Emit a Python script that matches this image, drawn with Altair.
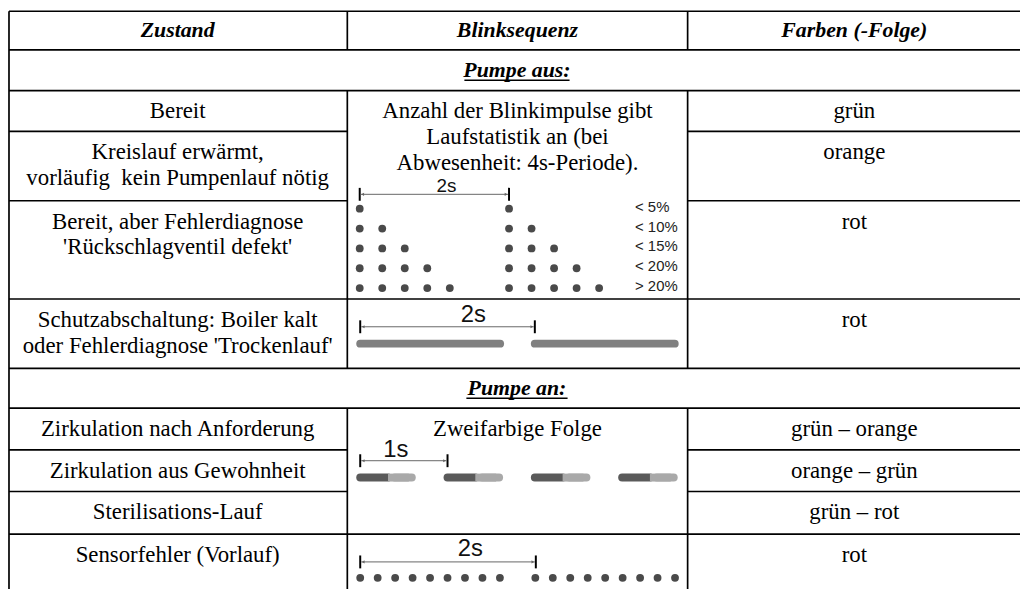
import altair as alt
import pandas as pd

# ---------------- content ----------------
header = ["Zustand", "Blinksequenz", "Farben (-Folge)"]
sections = ["Pumpe aus:", "Pumpe an:"]
zustand = [
    ["Bereit"],
    ["Kreislauf erwärmt,", "vorläufig\u00a0\u00a0kein Pumpenlauf nötig"],
    ["Bereit, aber Fehlerdiagnose", "'Rückschlagventil defekt'"],
    ["Schutzabschaltung: Boiler kalt", "oder Fehlerdiagnose 'Trockenlauf'"],
    ["Zirkulation nach Anforderung"],
    ["Zirkulation aus Gewohnheit"],
    ["Sterilisations-Lauf"],
    ["Sensorfehler (Vorlauf)"],
]
farben = ["grün", "orange", "rot", "rot", "grün – orange", "orange – grün", "grün – rot", "rot"]
blink_text = [
    ["Anzahl der Blinkimpulse gibt", "Laufstatistik an (bei", "Abwesenheit: 4s-Periode)."],
    ["Zweifarbige Folge"],
]
pulse_counts = [1, 2, 3, 4, 5]
pulse_labels = ["< 5%", "< 10%", "< 15%", "< 20%", "> 20%"]
sensor_pulses = 9
two_colour_periods = 4
dim_labels = ["2s", "2s", "1s", "2s"]

# ---------------- layout (pixel-like units) ----------------
W, H = 1020, 581
XS = alt.Scale(domain=[8, 8 + W], nice=False, zero=False)
YS = alt.Scale(domain=[8, 8 + H], nice=False, zero=False, reverse=True)

col_edges = [9, 350, 693, 1040]
row_edges = [9, 48, 89, 130, 200, 299, 369, 409, 451, 493, 536, 600]
full_lines = [0, 1, 2, 5, 6, 7, 10]
partial_lines = [3, 4, 8, 9]
zustand_rows = [2, 3, 4, 5, 7, 8, 9, 10]
section_rows = [1, 6]
col_centers = [179, 521.5, 861]
line_gap = 26
first_line = 21

SERIF = "Liberation Serif"
SANS = "Liberation Sans"
BODY_SIZE = 23
HEAD_SIZE = 22

# table grid
grid = []
for i in full_lines:
    grid.append(dict(x=col_edges[0], x2=col_edges[3], y=row_edges[i], y2=row_edges[i]))
for i in partial_lines:
    grid.append(dict(x=col_edges[0], x2=col_edges[1], y=row_edges[i], y2=row_edges[i]))
    grid.append(dict(x=col_edges[2], x2=col_edges[3], y=row_edges[i], y2=row_edges[i]))
grid.append(dict(x=col_edges[0], x2=col_edges[0], y=row_edges[0], y2=row_edges[-1]))
for cx in col_edges[1:3]:
    for a, b in [(0, 1), (2, 6), (7, 11)]:
        grid.append(dict(x=cx, x2=cx, y=row_edges[a], y2=row_edges[b]))
grid_df = pd.DataFrame(grid)


def rules(df, color, width, cap="butt"):
    return alt.Chart(df).mark_rule(color=color, strokeWidth=width, strokeCap=cap).encode(
        x=alt.X("x:Q", scale=XS, axis=None),
        x2="x2:Q",
        y=alt.Y("y:Q", scale=YS, axis=None),
        y2="y2:Q",
    )


def texts(df, font, size, weight="normal", style="normal", align="center", color="#000000"):
    return alt.Chart(df).mark_text(
        font=font, fontSize=size, fontWeight=weight, fontStyle=style,
        align=align, baseline="middle", color=color,
    ).encode(
        x=alt.X("x:Q", scale=XS, axis=None),
        y=alt.Y("y:Q", scale=YS, axis=None),
        text="t:N",
    )


# header text
head_df = pd.DataFrame([dict(x=col_centers[i], y=(row_edges[0] + row_edges[1]) / 2 - 1, t=h)
                        for i, h in enumerate(header)])
sec_df = pd.DataFrame([dict(x=521, y=(row_edges[r] + row_edges[r + 1]) / 2, t=s)
                       for r, s in zip(section_rows, sections)])
underline_span = [(468, 574), (470, 572)]
ul_df = pd.DataFrame([dict(x=a, x2=b, y=(row_edges[r] + row_edges[r + 1]) / 2 + 10,
                           y2=(row_edges[r] + row_edges[r + 1]) / 2 + 10)
                      for r, (a, b) in zip(section_rows, underline_span)])

body = []
for r, lines in zip(zustand_rows, zustand):
    for k, ln in enumerate(lines):
        body.append(dict(x=col_centers[0], y=row_edges[r] + first_line + k * line_gap, t=ln))
for r, ln in zip(zustand_rows, farben):
    body.append(dict(x=col_centers[2], y=row_edges[r] + first_line, t=ln))
for r, lines in zip([2, 7], blink_text):
    for k, ln in enumerate(lines):
        body.append(dict(x=col_centers[1], y=row_edges[r] + first_line + k * line_gap, t=ln))
body_df = pd.DataFrame(body)

# pulse statistics dots
dot_rows = []
for k, c in enumerate(pulse_counts):
    for g in range(2):
        for j in range(c):
            dot_rows.append(dict(x=362.5 + 22.7 * j + 150.5 * g, y=208 + 20 * k))
for g in range(2):
    for j in range(sensor_pulses):
        dot_rows.append(dict(x=363 + 17.6 * j + 176.5 * g, y=580))
dots_df = pd.DataFrame(dot_rows)
pct_df = pd.DataFrame([dict(x=640, y=206 + 20 * k, t=lab) for k, lab in enumerate(pulse_labels)])

# long bars (Schutzabschaltung)
long_df = pd.DataFrame([dict(x=363 + 176 * g, x2=504 + 176 * g, y=344, y2=344) for g in range(2)])

# two-colour bars
dark_df = pd.DataFrame([dict(x=363 + 88 * p, x2=391 + 88 * p, y=479, y2=479) for p in range(two_colour_periods)])
light_butt_df = pd.DataFrame([dict(x=391 + 88 * p, x2=412 + 88 * p, y=479, y2=479) for p in range(two_colour_periods)])
light_round_df = pd.DataFrame([dict(x=398 + 88 * p, x2=415 + 88 * p, y=479, y2=479) for p in range(two_colour_periods)])

# dimension markers: (x_left, x_right, y_line, label_x, label_y, label_size)
dims = [
    (362.5, 513, 193.5, 450, 185, 19),
    (363, 539, 327, 477, 315, 24),
    (363, 451, 462, 399, 451, 24),
    (363, 540, 564, 474, 551, 24),
]
tick_df = pd.DataFrame([dict(x=xx, x2=xx, y=yl - 6.5, y2=yl + 6.5) for (a, b, yl, *_r) in dims for xx in (a, b)])
dimline_df = pd.DataFrame([dict(x=a + 1, x2=b - 1, y=yl, y2=yl) for (a, b, yl, *_r) in dims])
arrow_l = pd.DataFrame([dict(x=a + 3, y=yl) for (a, b, yl, *_r) in dims])
arrow_r = pd.DataFrame([dict(x=b - 3, y=yl) for (a, b, yl, *_r) in dims])
dimlab_df = pd.DataFrame([dict(x=lx, y=ly, t=lab, s=sz) for (a, b, yl, lx, ly, sz), lab in zip(dims, dim_labels)])


def points(df, shape, size, color):
    return alt.Chart(df).mark_point(shape=shape, size=size, filled=True, color=color, opacity=1).encode(
        x=alt.X("x:Q", scale=XS, axis=None), y=alt.Y("y:Q", scale=YS, axis=None))


layers = [
    rules(grid_df, "#000000", 1.7),
    texts(head_df, SERIF, HEAD_SIZE, weight="bold", style="italic"),
    texts(sec_df, SERIF, HEAD_SIZE, weight="bold", style="italic"),
    rules(ul_df, "#000000", 1.4),
    texts(body_df, SERIF, BODY_SIZE),
    alt.Chart(dots_df).mark_circle(size=62, color="#4a4a4a", opacity=1).encode(
        x=alt.X("x:Q", scale=XS, axis=None), y=alt.Y("y:Q", scale=YS, axis=None)),
    texts(pct_df, SANS, 15, align="left", color="#222222"),
    rules(long_df, "#808080", 8, cap="round"),
    rules(dark_df, "#5a5a5a", 8, cap="round"),
    rules(light_butt_df, "#a9a9a9", 8),
    rules(light_round_df, "#a9a9a9", 8, cap="round"),
    rules(tick_df, "#000000", 2),
    rules(dimline_df, "#666666", 1),
    points(arrow_l, "triangle-left", 10, "#666666"),
    points(arrow_r, "triangle-right", 10, "#666666"),
    alt.Chart(dimlab_df).mark_text(font=SANS, baseline="middle", align="center", color="#111111").encode(
        x=alt.X("x:Q", scale=XS, axis=None), y=alt.Y("y:Q", scale=YS, axis=None),
        text="t:N", size=alt.Size("s:Q", scale=None)),
]

chart = alt.layer(*layers).properties(
    width=W, height=H, padding=0, autosize=alt.AutoSizeParams(type="none"),
    background="#ffffff",
).configure_view(stroke=None)

chart.save("out.html", embed_options={"renderer": "svg", "actions": False})
